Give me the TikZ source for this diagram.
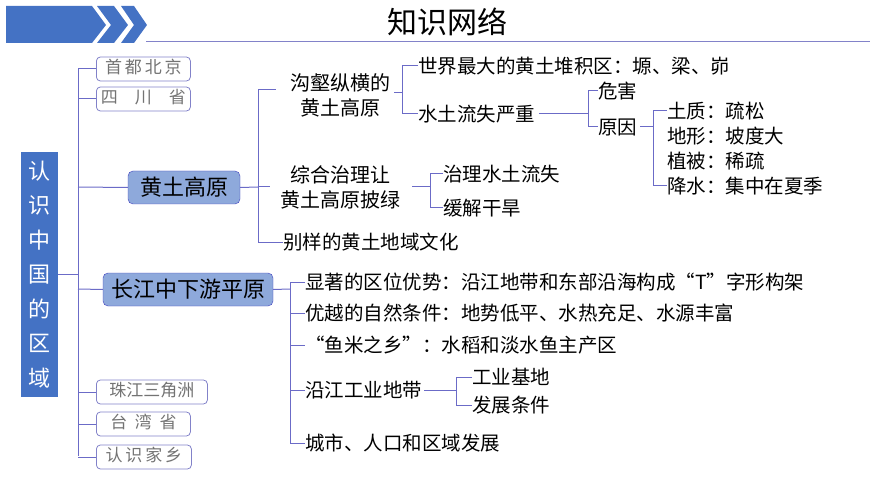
\documentclass[tikz,border=0pt]{standalone}
\usepackage{fontspec}
\setmainfont{Noto Sans CJK SC}
\begin{document}
\begin{tikzpicture}[x=1pt,y=-1pt,
  ln/.style={draw=blue!45!gray!80, line width=1pt},
  tx/.style={anchor=west, inner sep=0pt, font=\fontsize{19.5}{22}\selectfont},
  ctx/.style={align=center, inner sep=0pt, font=\fontsize{20}{25}\selectfont},
  small/.style={draw=blue!40!gray!70, rounded corners=4pt, line width=0.8pt, text=gray!90!black, font=\fontsize{17}{18}\selectfont, anchor=west, minimum height=24pt, inner sep=2pt},
  big/.style={draw=blue!50!gray, fill={rgb,255:red,142;green,169;blue,219}, rounded corners=5pt, minimum height=33pt, font=\fontsize{22}{24}\selectfont, inner sep=3pt}]
\definecolor{hb}{RGB}{68,114,196}
\useasboundingbox (0,0) rectangle (870,489);
% header
\fill[hb] (6,6)--(92,6)--(106,25)--(92,43)--(6,43)--cycle;
\fill[hb] (97,6)--(114,6)--(128,25)--(114,43)--(97,43)--(111,25)--cycle;
\fill[hb] (121,6)--(134,6)--(147,25)--(134,43)--(121,43)--(134,25)--cycle;
\draw[blue!40!gray!70, line width=0.8pt] (146,41)--(870,41);
\node[font=\fontsize{30}{32}\selectfont] (title) at (447,22) {知识网络};
% left box
\node[fill=hb, text=white, minimum width=37pt, minimum height=245pt, align=center, font=\fontsize{22}{34.5}\selectfont, inner sep=0pt] (root) at (39.5,274.5) {认\\识\\中\\国\\的\\区\\域};
\coordinate (sp) at (78,274);
\draw[ln] (root.east|-sp)--(sp);
\draw[ln] (78,69)--(78,456);
\node[small, minimum width=94pt] (a1) at (96,69) {首\,都\,北\,京\strut};
\node[small, minimum width=94pt] (a2) at (96,99) {四\quad 川\quad 省\strut};
\node[big, minimum width=112pt] (hu) at (184,187.5) {黄土高原};
\node[big, minimum width=170pt] (cj) at (188,289.5) {长江中下游平原};
\node[small, minimum width=111pt] (a3) at (96,392) {珠江三角洲\strut};
\node[small, minimum width=94pt] (a4) at (96,424) {台\ \ 湾\ \ 省\strut};
\node[small, minimum width=95pt] (a5) at (96,457) {认\,识\,家\,乡\strut};
\foreach \n/\y in {a1/69,a2/99,a3/392,a4/424,a5/457} \draw[ln] (78,\y)--(\n.west);
\draw[ln] (78,187)--(hu.west);
\draw[ln] (78,289)--(cj.west);
% huangtu
\node[ctx] (g1) at (340,95) {沟壑纵横的\\黄土高原};
\node[ctx] (g2) at (340,187) {综合治理让\\黄土高原披绿};
\node[tx] (g3) at (283,242) {别样的黄土地域文化};
\draw[ln] (hu.east)--(258,187);
\draw[ln] (258,90)--(258,242)--(g3.west);
\draw[ln] (258,90)--(276,90);
\draw[ln] (258,187)--(270,187);
\node[tx] (h1) at (418,66) {世界最大的黄土堆积区：塬、梁、峁};
\node[tx] (h2) at (418,114) {水土流失严重};
\draw[ln] (394,93)--(402,93);
\draw[ln] (h1.west)--(402,66)--(402,114)--(h2.west);
\node[tx] (w1) at (598,91) {危害};
\node[tx] (w2) at (598,127) {原因};
\draw[ln] (h2.east)++(4,0)--(588,114);
\draw[ln] (w1.west)--(588,91)--(588,127)--(w2.west);
\draw[ln] (w2.east)++(3,0)--(653,127);
\node[tx] (r1) at (667,111) {土质：疏松};
\node[tx] (r2) at (667,136) {地形：坡度大};
\node[tx] (r3) at (667,161) {植被：稀疏};
\node[tx] (r4) at (667,186) {降水：集中在夏季};
\draw[ln] (r1.west)--(653,111)--(653,186)--(r4.west);
\node[tx] (z1) at (443,174) {治理水土流失};
\node[tx] (z2) at (443,208) {缓解干旱};
\draw[ln] (412,187)--(430,187);
\draw[ln] (z1.west)--(430,174)--(430,208)--(z2.west);
% changjiang
\draw[ln] (cj.east)--(290,289);
\node[tx] (c1) at (305,282) {显著的区位优势：沿江地带和东部沿海构成“T”字形构架};
\node[tx] (c2) at (305,313) {优越的自然条件：地势低平、水热充足、水源丰富};
\node[tx] (c3) at (305,345) {“鱼米之乡”：水稻和淡水鱼主产区};
\node[tx] (c4) at (305,390) {沿江工业地带};
\node[tx] (c5) at (305,443) {城市、人口和区域发展};
\draw[ln] (c1.west)--(290,282)--(290,443)--(c5.west);
\foreach \n in {c2,c3,c4} \draw[ln] (290,0|-\n.west)--(\n.west);
\node[tx] (i1) at (472,377) {工业基地};
\node[tx] (i2) at (472,405) {发展条件};
\draw[ln] (c4.east)++(2,0)--(456,390);
\draw[ln] (i1.west)--(456,377)--(456,405)--(i2.west);
\end{tikzpicture}
\end{document}
